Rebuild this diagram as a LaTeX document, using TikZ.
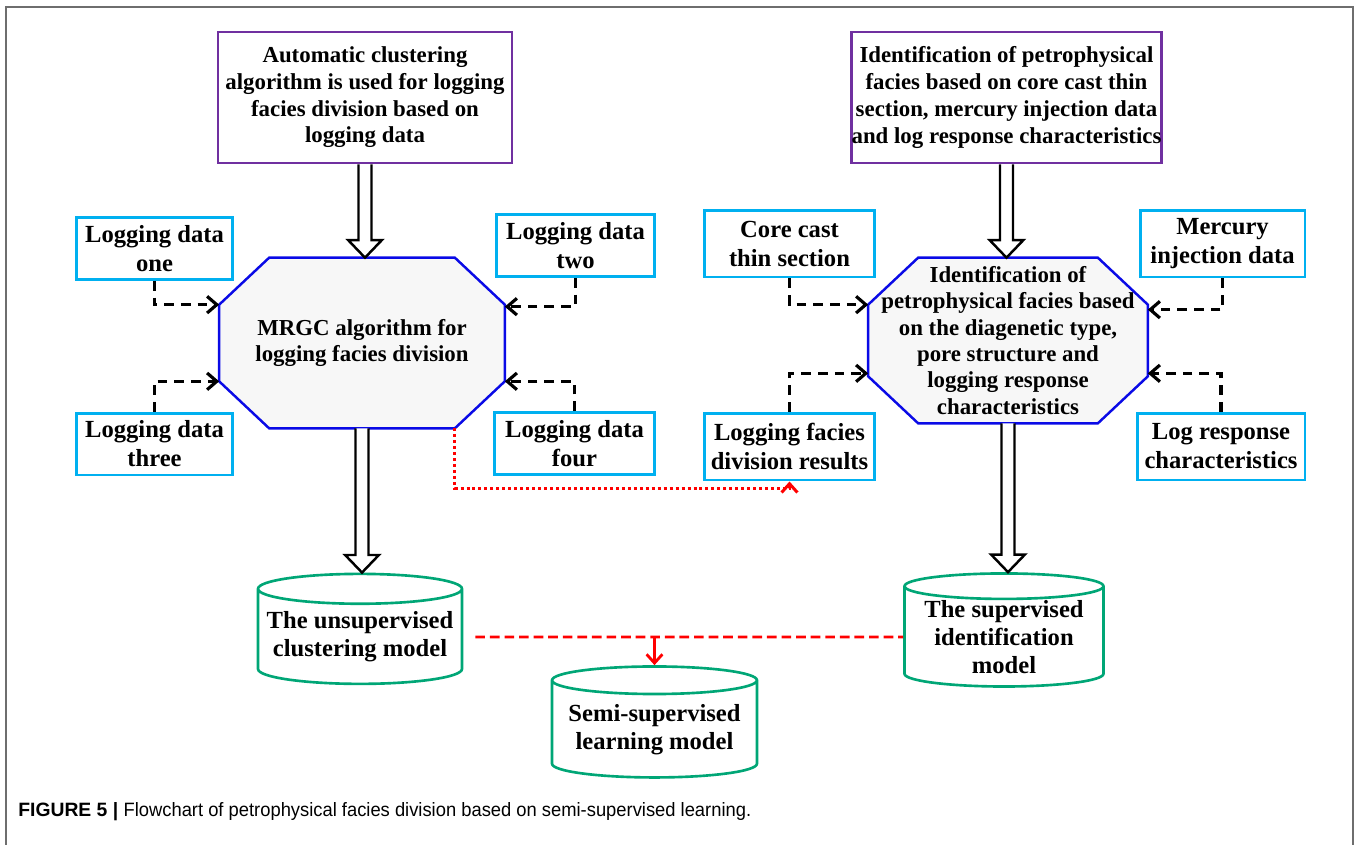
\documentclass[tikz,border=0pt]{standalone}
\usepackage{fontspec}
\setmainfont{Liberation Serif}
\newfontfamily\capfont{Liberation Sans}
\newfontfamily\capnarrow{Liberation Sans}[FakeStretch=0.95]
\usepackage{xcolor}
\definecolor{fcpurple}{RGB}{112,48,160}
\definecolor{fccyan}{RGB}{0,176,240}
\definecolor{fcblue}{RGB}{10,10,230}
\definecolor{fcgreen}{RGB}{0,166,118}
\definecolor{fcred}{RGB}{255,0,0}
\definecolor{fcframe}{RGB}{110,110,110}
\usepackage{tikz}
\usetikzlibrary{arrows.meta, positioning, shapes.geometric, calc, backgrounds}

% octagon drawn round a named node
\newcommand{\octframe}[1]{%
  \draw[octline] ([xshift=1cm]#1.north west) -- ([xshift=-1cm]#1.north east)
    -- ([yshift=-0.94cm]#1.north east) -- ([yshift=0.94cm]#1.south east)
    -- ([xshift=-1cm]#1.south east) -- ([xshift=1cm]#1.south west)
    -- ([yshift=0.94cm]#1.south west) -- ([yshift=-0.94cm]#1.north west) -- cycle;}

\begin{document}
\begin{tikzpicture}[
  x=0.02cm, y=-0.02cm,
  every node/.style={align=center, inner sep=0pt},
  topbox/.style={draw=fcpurple, line width=1.6pt, fill=white, minimum height=2.62cm, font=\fontsize{13}{15.2}\selectfont\bfseries},
  databox/.style={draw=fccyan, line width=1.7pt, fill=white, minimum height=1.24cm, font=\fontsize{14}{16.5}\selectfont\bfseries},
  octbox/.style={rectangle, font=\fontsize{13}{15}\selectfont\bfseries},
  octline/.style={draw=fcblue, line width=1.4pt, fill=gray!6},
  cylbox/.style={cylinder, shape border rotate=90, aspect=0.16, draw=fcgreen, line width=1.5pt, fill=white, font=\fontsize{14}{16}\selectfont\bfseries},
  fatarrow/.style={draw=black, line width=1.4pt, fill=white,
    to path={let \p1=(\tikztostart), \p2=(\tikztotarget) in
      (\x1-3.7pt,\y1) -- (\x1-3.7pt,\y2+10pt) -- (\x1-9.6pt,\y2+10pt) -- (\x1,\y2)
      -- (\x1+9.6pt,\y2+10pt) -- (\x1+3.7pt,\y2+10pt) -- (\x1+3.7pt,\y1)}},
  dashlink/.style={draw=black, line width=1.8pt, dash pattern=on 5.5pt off 4pt, -{Straight Barb[length=5.5pt,width=9.5pt]}},
  redlink/.style={draw=fcred, line width=1.7pt, dash pattern=on 1.7pt off 1.7pt, -{Straight Barb[length=5pt,width=9pt]}},
  reddash/.style={draw=fcred, line width=1.6pt, dash pattern=on 5.5pt off 2.8pt},
  redarrow/.style={draw=fcred, line width=1.6pt, -{Straight Barb[length=5pt,width=9pt]}}
]
  \useasboundingbox (0,0) rectangle (1356,845);
  \draw[fcframe, line width=1pt] (6,845) -- (6,7) -- (1353,7) -- (1353,845);

  % top boxes
  \node[topbox, minimum width=5.88cm] (autoclus) at (365,97.5) {Automatic clustering\\algorithm is used for logging\\facies division based on\\logging data};
  \node[topbox, minimum width=6.18cm] (petroid) at (1006.5,97.5) {Identification of petrophysical\\facies based on core cast thin\\section, mercury injection data\\and log response characteristics};

  % octagons
  \node[octbox, minimum width=5.7cm, minimum height=3.4cm] (mrgc) at (362,343) {MRGC algorithm for\\logging facies division};
  \node[octbox, minimum width=5.58cm, minimum height=3.3cm] (facies) at (1008,340.5) {Identification of\\petrophysical facies based\\on the diagenetic type,\\pore structure and\\logging response\\characteristics};
  \begin{scope}[on background layer]
    \octframe{mrgc}
    \octframe{facies}
  \end{scope}

  % input data
  \node[databox, minimum width=3.14cm] (dataone) at (154.5,248.5) {Logging data\\one};
  \node[databox, minimum width=3.18cm] (datatwo) at (575.5,245.5) {Logging data\\two};
  \node[databox, minimum width=3.14cm] (datathree) at (154.5,444) {Logging data\\three};
  \node[databox, minimum width=3.22cm] (datafour) at (574.5,443.5) {Logging data\\four};
  \node[databox, minimum width=3.42cm, minimum height=1.34cm] (corecast) at (789.5,243.5) {Core cast\\thin section};
  \node[databox, minimum width=3.3cm, minimum height=1.34cm] (mercury) at (1222.5,243.5) {Mercury\\injection data};
  \node[databox, minimum width=3.42cm, minimum height=1.34cm] (results) at (789.5,446.5) {Logging facies\\division results};
  \node[databox, minimum width=3.36cm, minimum height=1.34cm] (logresp) at (1221,446.5) {Log response\\characteristics};

  % models
  \node[cylbox, minimum width=4.08cm, minimum height=2.2cm] (unsup) at (360,637) {The unsupervised\\clustering model};
  \node[cylbox, minimum width=3.98cm, minimum height=2.2cm] (sup) at (1004,637) {The supervised\\identification\\model};
  \node[cylbox, minimum width=4.1cm, minimum height=2.22cm] (semi) at (654.5,729.5) {Semi-supervised\\learning model};

  \draw[fatarrow] (autoclus.south) to (mrgc.north);
  \draw[fatarrow] (petroid.south) to (facies.north);
  \draw[fatarrow] (mrgc.south) to (unsup.north);
  \draw[fatarrow] (facies.south) to (sup.north);

  \draw[dashlink] (dataone.south) |- ([yshift=-0.94cm]mrgc.north west);
  \draw[dashlink] (datatwo.south) |- ([yshift=-0.98cm]mrgc.north east);
  \draw[dashlink] (datathree.north) |- ([yshift=0.94cm]mrgc.south west);
  \draw[dashlink] (datafour.north) |- ([yshift=0.94cm]mrgc.south east);
  \draw[dashlink] (corecast.south) |- ([yshift=-0.94cm]facies.north west);
  \draw[dashlink] (mercury.south) |- ([yshift=-1.04cm]facies.north east);
  \draw[dashlink] (results.north) |- ([yshift=1cm]facies.south west);
  \draw[dashlink] (logresp.north) |- ([yshift=1cm]facies.south east);

  \draw[redlink] ([xshift=-1cm]mrgc.south east) -- ++(0,60) -| (results.south);
  \draw[reddash] ([xshift=0.24cm]unsup.east) -- (sup.west);
  \draw[redarrow] (semi.north |- unsup.east) -- (semi.north);

  \node[anchor=west, font=\capfont\fontsize{11}{13}\selectfont] (caption) at (18,812) {\textbf{FIGURE 5 |} {\capnarrow Flowchart of petrophysical facies division based on semi-supervised learning.}};
\end{tikzpicture}
\end{document}
